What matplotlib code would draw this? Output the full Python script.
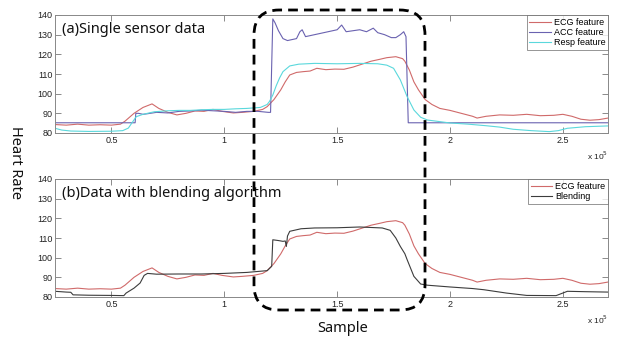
import numpy as np
import matplotlib
matplotlib.use("Agg")
import matplotlib.pyplot as plt
from matplotlib.patches import FancyBboxPatch

# ---- data (x in units of 1e5 samples) ----
ecg_x = [0.25, 0.30, 0.35, 0.40, 0.45, 0.50, 0.54, 0.56, 0.60, 0.64, 0.68, 0.71, 0.75, 0.79, 0.83,
         0.87, 0.91, 0.95, 0.99, 1.04, 1.08, 1.13, 1.17, 1.19, 1.22, 1.25, 1.27, 1.29, 1.32, 1.35,
         1.38, 1.41, 1.45, 1.49, 1.53, 1.57, 1.61, 1.65, 1.69, 1.72, 1.76, 1.79, 1.80, 1.82, 1.84,
         1.86, 1.89, 1.92, 1.955, 2.00, 2.05, 2.10, 2.12, 2.16, 2.22, 2.28, 2.34, 2.40, 2.46, 2.50,
         2.54, 2.58, 2.62, 2.66, 2.70]
ecg_y = [84.3, 84.0, 84.5, 84.0, 84.2, 84.0, 84.5, 86.0, 90.0, 93.0, 94.8, 92.5, 90.5, 89.2, 90.0,
         91.2, 91.0, 92.0, 91.0, 90.2, 90.5, 91.0, 92.0, 93.4, 97.0, 101.9, 106.0, 109.5, 110.8, 111.2,
         111.5, 112.9, 112.2, 112.5, 112.4, 113.5, 115.0, 116.5, 117.5, 118.3, 118.8, 117.8, 116.5, 112.0, 106.0,
         102.0, 97.0, 94.5, 92.5, 91.5, 90.0, 88.5, 87.6, 88.5, 89.2, 89.0, 89.5, 88.8, 89.0, 89.5,
         88.5, 87.0, 86.5, 86.8, 87.6]

acc_x = [0.25, 0.605, 0.608, 0.62, 0.64, 0.66, 0.70, 0.75, 0.80, 0.85, 0.90, 0.95, 1.00, 1.05, 1.10,
         1.15, 1.195, 1.205, 1.215, 1.225, 1.24, 1.26, 1.28, 1.30, 1.32, 1.335, 1.345, 1.36, 1.38, 1.42,
         1.46, 1.50, 1.52, 1.54, 1.57, 1.60, 1.63, 1.66, 1.68, 1.71, 1.74, 1.76, 1.78, 1.795, 1.805,
         1.815, 2.70]
acc_y = [85.2, 85.2, 90.0, 90.0, 89.5, 89.8, 90.5, 90.2, 91.0, 91.2, 91.6, 91.3, 91.0, 90.5, 91.0,
         91.0, 90.5, 90.5, 138.0, 136.0, 132.0, 128.0, 127.0, 127.5, 128.0, 131.5, 132.5, 129.0, 129.5, 130.5,
         131.5, 132.5, 134.9, 131.5, 132.0, 132.5, 131.5, 133.3, 131.0, 130.0, 128.5, 128.5, 130.0, 131.5, 129.0,
         85.2, 85.2]

resp_x = [0.25, 0.28, 0.32, 0.40, 0.50, 0.55, 0.575, 0.59, 0.61, 0.64, 0.69, 0.75, 0.80, 0.85, 0.90,
          0.95, 1.00, 1.05, 1.10, 1.16, 1.19, 1.20, 1.215, 1.23, 1.245, 1.26, 1.29, 1.33, 1.40, 1.50,
          1.60, 1.68, 1.72, 1.75, 1.78, 1.81, 1.84, 1.87, 1.90, 2.00, 2.08, 2.16, 2.22, 2.28, 2.36,
          2.44, 2.48, 2.52, 2.60, 2.70]
resp_y = [82.4, 81.5, 81.0, 80.8, 80.9, 81.2, 82.5, 85.0, 88.3, 89.5, 90.8, 91.3, 91.5, 91.5, 91.8,
          92.0, 92.0, 92.3, 92.5, 93.0, 94.5, 96.0, 99.3, 104.0, 108.0, 111.2, 114.1, 115.0, 115.4, 115.2,
          115.4, 115.2, 114.5, 112.9, 107.0, 98.5, 91.7, 88.0, 86.6, 85.1, 84.5, 83.7, 83.0, 81.9, 81.2,
          80.7, 81.2, 82.4, 83.2, 83.6]

blend_x = [0.25, 0.30, 0.32, 0.33, 0.40, 0.50, 0.555, 0.565, 0.60, 0.627, 0.645, 0.66, 0.70, 0.80, 0.90,
           1.00, 1.10, 1.19, 1.21, 1.215, 1.24, 1.26, 1.27, 1.275, 1.28, 1.29, 1.34, 1.40, 1.50, 1.60,
           1.70, 1.735, 1.76, 1.78, 1.80, 1.81, 1.84, 1.87, 1.90, 2.00, 2.10, 2.15, 2.25, 2.34, 2.47,
           2.52, 2.60, 2.70]
blend_y = [82.9, 82.5, 82.4, 81.1, 80.9, 80.8, 80.7, 82.0, 84.5, 87.1, 91.0, 92.0, 91.6, 91.7, 91.7,
           92.0, 92.5, 93.4, 95.6, 109.1, 108.7, 108.3, 108.5, 105.7, 111.0, 113.4, 114.7, 115.1, 115.2, 115.6,
           115.1, 113.9, 110.0, 105.7, 102.0, 99.0, 90.5, 86.6, 86.0, 85.1, 84.3, 83.7, 82.0, 80.8, 80.7,
           82.9, 82.7, 82.5]

x_ticks = [0.5, 1.0, 1.5, 2.0, 2.5]
x_tick_labels = ["0.5", "1", "1.5", "2", "2.5"]
y_ticks = [80, 90, 100, 110, 120, 130, 140]

C_ECG = "#d06a6a"
C_ACC = "#6a62b0"
C_RESP = "#5ad8dc"
C_BLEND = "#3c3c3c"

plt.rcParams["font.family"] = ["Liberation Sans", "DejaVu Sans"]

W, H = 617, 339
fig = plt.figure(figsize=(W / 100, H / 100), dpi=100)

def make_ax(top_px, bot_px):
    l, r = 55 / W, 608 / W
    ax = fig.add_axes([l, 1 - bot_px / H, r - l, (bot_px - top_px) / H])
    ax.set_xlim(0.25, 2.70)
    ax.set_ylim(80, 140)
    ax.set_xticks(x_ticks)
    ax.set_xticklabels(x_tick_labels)
    ax.set_yticks(y_ticks)
    ax.tick_params(direction="in", length=4, width=0.6, color="#777777",
                   labelsize=6.5, top=True, right=True, pad=2, labelcolor="#222222")
    for s in ax.spines.values():
        s.set_color("#888888")
        s.set_linewidth(0.7)
    ax.text(1.0, -0.19, r"x 10$^5$", transform=ax.transAxes, ha="right", va="center",
            fontsize=6, color="#222222")
    return ax

ax1 = make_ax(15, 133)
ax1.plot(np.array(ecg_x), ecg_y, color=C_ECG, lw=0.8, label="ECG feature")
ax1.plot(np.array(acc_x), acc_y, color=C_ACC, lw=0.8, label="ACC feature")
ax1.plot(np.array(resp_x), resp_y, color=C_RESP, lw=0.8, label="Resp feature")
ax1.text(0.012, 0.88, "(a)Single sensor data", transform=ax1.transAxes, ha="left", va="center",
         fontsize=10.5, family=["Noto Sans", "DejaVu Sans"], color="#111111")
leg1 = ax1.legend(loc="upper right", fontsize=6.5, frameon=True, fancybox=False,
                  handlelength=2.4, handletextpad=0.3, borderpad=0.3, labelspacing=0.15,
                  borderaxespad=0.0)
leg1.get_frame().set_edgecolor("#666666")
leg1.get_frame().set_linewidth(0.6)

ax2 = make_ax(179, 297)
ax2.plot(np.array(ecg_x), ecg_y, color=C_ECG, lw=0.8, label="ECG feature")
ax2.plot(np.array(blend_x), blend_y, color=C_BLEND, lw=0.8, label="Blending")
ax2.text(0.012, 0.88, "(b)Data with blending algorithm", transform=ax2.transAxes, ha="left",
         va="center", fontsize=10.5, family=["Noto Sans", "DejaVu Sans"], color="#111111")
leg2 = ax2.legend(loc="upper right", fontsize=6.5, frameon=True, fancybox=False,
                  handlelength=2.4, handletextpad=0.3, borderpad=0.3, labelspacing=0.15,
                  borderaxespad=0.0)
leg2.get_frame().set_edgecolor("#666666")
leg2.get_frame().set_linewidth(0.6)

fig.text(15 / W, 1 - 163 / H, "Heart Rate", rotation=-90, ha="center", va="center",
         fontsize=10.5, family=["Noto Sans", "DejaVu Sans"], color="#111111")
fig.text(343 / W, 1 - 328 / H, "Sample", ha="center", va="center",
         fontsize=10.5, family=["Noto Sans", "DejaVu Sans"], color="#111111")

# dashed rounded highlight box (in inches)
box = FancyBboxPatch((2.54, (H - 310) / 100), 1.71, 3.0,
                     boxstyle="round,pad=0,rounding_size=0.25",
                     transform=fig.dpi_scale_trans, fill=False, edgecolor="black",
                     linewidth=2.0, linestyle=(0, (3.5, 2.2)), zorder=10)
fig.patches.append(box)

fig.savefig("out.png", dpi=100)
